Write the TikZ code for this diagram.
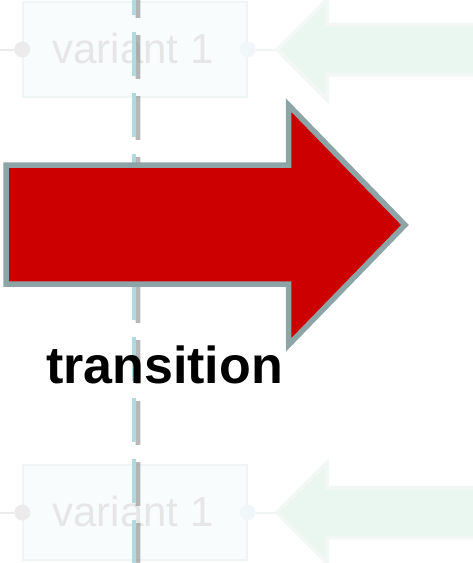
\documentclass[tikz,border=0pt]{standalone}
\usepackage{fontspec}
\setmainfont{Liberation Sans}
\usepackage{tikz}
\definecolor{arrowred}{HTML}{CC0000}
\definecolor{arrowrim}{HTML}{8DA5A6}
\definecolor{laneblue}{HTML}{AFDADF}
\definecolor{fadebox}{HTML}{F9FCFC}
\definecolor{faderim}{HTML}{EFF4F4}
\definecolor{fadetext}{HTML}{E6E6E6}
\definecolor{fadedot}{HTML}{EBEBEB}
\definecolor{fadedotb}{HTML}{F1F7F8}
\definecolor{fadearrow}{HTML}{EAF7F1}
\definecolor{fadearrowrim}{HTML}{F3F8F6}

\begin{document}
\begin{tikzpicture}[x=1pt,y=-1pt,
  variantbox/.style={draw=faderim, fill=fadebox, line width=1.5pt, minimum width=224pt, minimum height=95pt, inner sep=0pt},
  port/.style={circle, fill=#1, minimum size=16pt, inner sep=0pt},
  lane/.style={laneblue, line width=4pt, dash pattern=on 44pt off 17pt}]
\useasboundingbox (0,0) rectangle (473,563);

% faded variants, top and bottom
\foreach \n/\y in {1/49.5, 2/512.5} {
  \node[variantbox] (box\n) at (135,\y) {};
  \node[port=fadedot] (in\n) at (box\n.west) {};
  \node[port=fadedotb] (out\n) at (box\n.east) {};
  \coordinate (src\n) at (0,\y);
  \coordinate (tip\n) at (277,\y);
  \draw[fadedot, line width=2pt] (src\n) -- (in\n);
  \draw[faderim, line width=2pt] (out\n) -- (tip\n);
  \draw[fadearrowrim, fill=fadearrow, line width=4pt] (tip\n) -- ++(50,-50) -- ++(0,25) -- ++(160,0) -- ++(0,50) -- ++(-160,0) -- ++(0,25) -- cycle;
  \node[anchor=base, text=fadetext, font=\fontsize{42}{42}\selectfont] (lbl\n) at (133,\y+14) {variant 1};
}

% lane with its shadow
\coordinate (laneTop) at (134,-29);
\coordinate (laneBot) at (134,563);
\draw[lane, gray, opacity=.2, line width=6pt] ([shift={(4,3)}]laneTop) -- ([shift={(4,3)}]laneBot);
\draw[lane, gray, opacity=.45] ([shift={(4,3)}]laneTop) -- ([shift={(4,3)}]laneBot);
\draw[lane] (laneTop) -- (laneBot);

% transition arrow
\draw[arrowrim, fill=arrowred, line width=5.5pt] (6,165) -- (288.5,165) -- (288.5,105) -- (405,225) -- (288.5,345) -- (288.5,284) -- (6,284) -- cycle;
\node[anchor=base west, font=\fontsize{52}{52}\selectfont\bfseries] (trans) at (42.5,383) {transition};
\end{tikzpicture}
\end{document}
